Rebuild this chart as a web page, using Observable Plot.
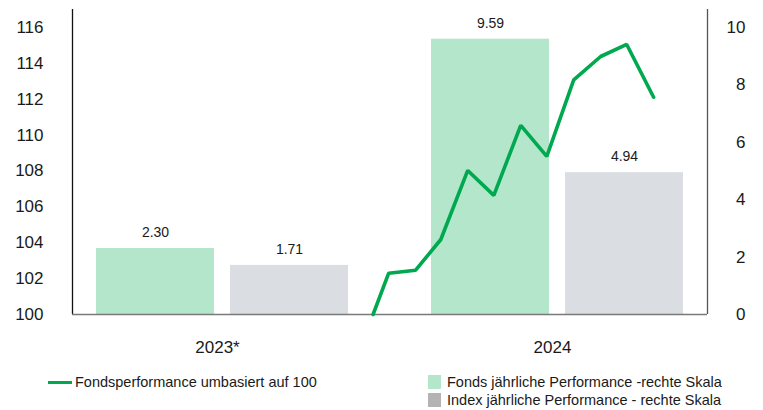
<!DOCTYPE html>
<html>
<head>
<meta charset="utf-8">
<script src="https://cdn.jsdelivr.net/npm/d3@7"></script>
<script src="https://cdn.jsdelivr.net/npm/@observablehq/plot@0.6"></script>
<style>
  body { margin: 0; background: #fff; font-family: "Liberation Sans", Arial, sans-serif; }
  #wrap { position: relative; width: 763px; height: 410px; }
  #wrap > .layer { position: absolute; left: 0; top: 0; }
  .legend { position: absolute; font-size: 14.5px; color: #1a1a1a; white-space: nowrap; display: flex; align-items: center; }
  .sw-line { display: inline-block; width: 24px; height: 3px; margin-right: 3px; }
  .sw-box { display: inline-block; width: 13px; height: 14px; margin-right: 6px; }
</style>
</head>
<body>
<div id="wrap"></div>
<script>
// ---- data ----
const years = ["2023*", "2024"];
const seriesNames = ["Fonds jährliche Performance -rechte Skala", "Index jährliche Performance - rechte Skala"];
const fondsPerf = [2.30, 9.59];
const indexPerf = [1.71, 4.94];

const lineName = "Fondsperformance umbasiert auf 100";
const lineDates = ["2023-12-13", "2023-12-31", "2024-01-31", "2024-02-29", "2024-03-31", "2024-04-30",
                   "2024-05-31", "2024-06-30", "2024-07-31", "2024-08-31", "2024-09-30", "2024-10-31"];
const lineValues = [100.00, 102.30, 102.47, 104.18, 108.03, 106.64, 110.54, 108.81, 113.08, 114.38, 115.05, 112.11];

const leftTicks = [100, 102, 104, 106, 108, 110, 112, 114, 116];
const rightTicks = [0, 2, 4, 6, 8, 10];

// ---- styles ----
const W = 763, H = 360;
const M = {top: 9, right: 56, bottom: 46, left: 72};
const fondsColor = "#b3e6cb";
const indexColor = "#dadee2";
const indexLegendColor = "#b3b3b3";
const lineColor = "#00a84f";

const bars = [];
years.forEach((y, i) => {
  bars.push({year: y, series: seriesNames[0], value: fondsPerf[i]});
  bars.push({year: y, series: seriesNames[1], value: indexPerf[i]});
});
const line = lineDates.map((d, i) => ({date: new Date(d), value: lineValues[i]}));

const wrap = document.getElementById("wrap");

// Layer A: bars on the right-hand scale, category axis
const barPlot = Plot.plot({
  width: W, height: H,
  marginTop: M.top, marginRight: M.right, marginBottom: M.bottom, marginLeft: M.left,
  style: {background: "transparent", fontFamily: "Liberation Sans, Arial, sans-serif", overflow: "visible"},
  fx: {domain: years, paddingInner: 0.1045, paddingOuter: 0, axis: null},
  x: {domain: seriesNames, paddingInner: 0.1194, paddingOuter: 0.179, axis: null},
  y: {domain: [0, 10.625], axis: null},
  color: {domain: seriesNames, range: [fondsColor, indexColor]},
  marks: [
    Plot.barY(bars, {fx: "year", x: "series", y: "value", fill: "series"}),
    Plot.text(bars, {fx: "year", x: "series", y: "value", text: d => d.value.toFixed(2), dy: -16, fontSize: 14, fill: "#1a1a1a"}),
    Plot.axisY({anchor: "right", ticks: rightTicks, tickSize: 0, tickPadding: 38, textAnchor: "end", fontSize: 17, fill: "#1a1a1a", label: null}),
    Plot.axisFx({anchor: "bottom", tickSize: 0, tickPadding: 26, fontSize: 17, dx: -5, fill: "#1a1a1a", label: null})
  ]
});
barPlot.classList.add("layer");
wrap.appendChild(barPlot);

// Layer B: fund performance line on the left-hand scale
const linePlot = Plot.plot({
  width: W, height: H,
  marginTop: M.top, marginRight: M.right, marginBottom: M.bottom, marginLeft: M.left,
  style: {background: "transparent", fontFamily: "Liberation Sans, Arial, sans-serif", overflow: "visible"},
  x: {type: "utc", domain: [new Date("2023-01-01"), new Date("2025-01-01")], axis: null},
  y: {domain: [100, 117], axis: null},
  marks: [
    Plot.axisY({anchor: "left", ticks: leftTicks, tickSize: 0, tickPadding: 29, fontSize: 17, fill: "#1a1a1a", label: null}),
    Plot.ruleX([new Date("2023-01-01")], {stroke: "#111", strokeWidth: 1.3}),
    Plot.ruleX([new Date("2025-01-01")], {stroke: "#555", strokeWidth: 1.3}),
    Plot.ruleY([100], {stroke: "#7a7a7a", strokeWidth: 1.6}),
    Plot.line(line, {x: "date", y: "value", stroke: lineColor, strokeWidth: 3.6, strokeLinejoin: "miter"})
  ]
});
linePlot.classList.add("layer");
wrap.appendChild(linePlot);

// Legend
function addLegend(left, top, swatchHtml, text) {
  const el = document.createElement("div");
  el.className = "legend";
  el.style.left = left + "px";
  el.style.top = top + "px";
  el.innerHTML = swatchHtml + "<span>" + text + "</span>";
  wrap.appendChild(el);
}
addLegend(48, 374, `<span class="sw-line" style="background:${lineColor}"></span>`, lineName);
addLegend(428, 374, `<span class="sw-box" style="background:${fondsColor}"></span>`, seriesNames[0]);
addLegend(428, 392, `<span class="sw-box" style="background:${indexLegendColor}"></span>`, seriesNames[1]);
</script>
</body>
</html>
